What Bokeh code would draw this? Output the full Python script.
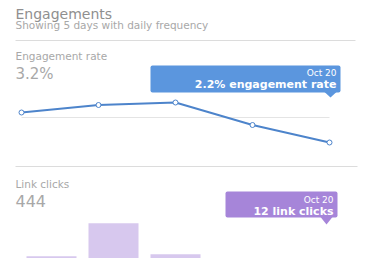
from bokeh.plotting import figure
from bokeh.models import Range1d, Label, BoxAnnotation, PolyAnnotation
from bokeh.layouts import column
from bokeh.embed import file_html
from bokeh.resources import INLINE

# ---- data ----
days = ["Oct 16", "Oct 17", "Oct 18", "Oct 19", "Oct 20"]
engagement_rate = [3.4, 3.7, 3.8, 2.9, 2.2]
link_clicks = [120, 170, 123, 19, 12]
title_text = "Engagements"
subtitle_text = "Showing 5 days with daily frequency"
rate_label = "Engagement rate"
rate_total = "3.2%"
clicks_label = "Link clicks"
clicks_total = "444"

FONT = "DejaVu Sans"
W = 380
PAGE_LEFT = 0
BASELINE_FIX = -4

GRAY_T = "#8f8f8f"
GRAY_L = "#a8a8a8"
SEP = "#dcdcdc"
BLUE = "#4d84cb"
BLUE_TIP = "#5b96de"
PURPLE_TIP = "#a685d9"
BAR = "#d7c8ee"


def make_fig(h, xr, yr):
    p = figure(width=W, height=h, x_range=xr, y_range=yr, output_backend="svg",
               toolbar_location=None, min_border=0, x_axis_location=None,
               y_axis_location=None, outline_line_color=None,
               background_fill_color="white", border_fill_color="white")
    p.grid.visible = False
    return p


def mapper(top, h, xr, yr):
    def f(px, py):
        x = xr.start + (px - PAGE_LEFT) / W * (xr.end - xr.start)
        y = yr.end - (py - top) / h * (yr.end - yr.start)
        return x, y
    return f


def label(p, m, px, py, text, size, color, bold=False, align="left"):
    x, y = m(px, py + BASELINE_FIX)
    p.add_layout(Label(x=x, y=y, text=text, text_font=FONT, text_font_size=size,
                       text_color=color, text_align=align, text_baseline="alphabetic",
                       text_font_style="bold" if bold else "normal"))


def separator(p, m, px0, px1, py):
    x0, y0 = m(px0, py)
    x1, _ = m(px1, py)
    p.segment(x0=[x0], y0=[y0], x1=[x1], y1=[y0], line_color=SEP, line_width=1)


def tooltip(p, m, box, tip, color, line1, line2, s1, s2, b1, b2, right):
    l, t = m(box[0], box[1])
    r, b = m(box[2], box[3])
    p.add_layout(BoxAnnotation(left=l, right=r, top=t, bottom=b, fill_color=color,
                               fill_alpha=1, line_color=None, border_radius=2))
    cx, ty = tip
    pts = [m(cx - 6, box[3] - 0.5), m(cx + 6, box[3] - 0.5), m(cx, ty)]
    p.add_layout(PolyAnnotation(xs=[q[0] for q in pts], ys=[q[1] for q in pts],
                                fill_color=color, fill_alpha=1, line_color=None))
    label(p, m, right, b1, line1, s1, "white", align="right")
    label(p, m, right, b2, line2, s2, "white", bold=True, align="right")


# ---- header (page y 0..45) ----
hx = Range1d(0, W)
hy = Range1d(45, 0)
ph = make_fig(45, hx, hy)
mh = mapper(0, 45, hx, hy)
label(ph, mh, 15, 17.5, title_text, "14px", GRAY_T)
label(ph, mh, 15, 28.5, subtitle_text, "10.5px", GRAY_L)
separator(ph, mh, 15, 355, 40)

# ---- engagement rate line (page y 45..160) ----
lx = Range1d(-21 / 77, (W - 21) / 77)
ly = Range1d(1.48, 6.08)
pl = make_fig(115, lx, ly)
ml = mapper(45, 115, lx, ly)
xs = list(range(len(days)))
mean_rate = sum(engagement_rate) / len(engagement_rate)
pl.segment(x0=[xs[0]], y0=[mean_rate], x1=[xs[-1]], y1=[mean_rate],
           line_color="#e4e4e4", line_width=1)
pl.line(xs, engagement_rate, line_color=BLUE, line_width=2)
pl.scatter(xs, engagement_rate, size=5, fill_color="white", line_color=BLUE, line_width=1)
label(pl, ml, 15, 59.5, rate_label, "10.5px", GRAY_L)
label(pl, ml, 15, 77.5, rate_total, "15px", GRAY_L)
tooltip(pl, ml, (150, 65, 340, 92), (330, 97), BLUE_TIP, days[-1],
        f"{engagement_rate[-1]}% engagement rate", "9px", "11px", 76.5, 87.5, 336)

# ---- link clicks bars (page y 160..258) ----
bx = Range1d(-51 / 62, (W - 51) / 62)
by = Range1d(116.7, 265)
pb = make_fig(98, bx, by)
mb = mapper(160, 98, bx, by)
pb.vbar(x=xs, top=link_clicks, bottom=0, width=50 / 62, fill_color=BAR, line_color=None)
separator(pb, mb, 15, 357, 166)
label(pb, mb, 15, 187, clicks_label, "10.5px", GRAY_L)
label(pb, mb, 15, 204.5, clicks_total, "16px", GRAY_L)
tooltip(pb, mb, (225, 191, 337, 217), (326, 224), PURPLE_TIP, days[-1],
        f"{link_clicks[-1]} link clicks", "9px", "11px", 203, 214.5, 333)

layout = column(ph, pl, pb, spacing=0)
open("out.html", "w").write(file_html(layout, INLINE))
